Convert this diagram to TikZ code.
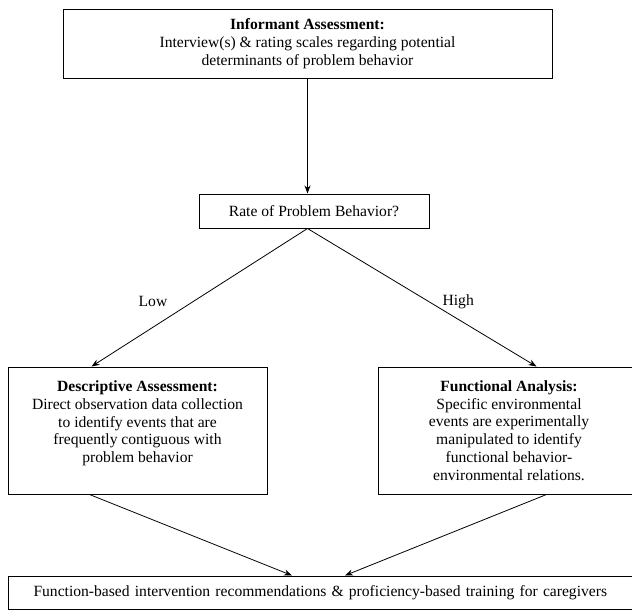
\documentclass[tikz,border=0pt]{standalone}
\usepackage{fontspec}
\setmainfont{Liberation Serif}
\usetikzlibrary{arrows.meta,calc}

\begin{document}
\begin{tikzpicture}[x=1pt, y=-1pt,
      box/.style={draw, line width=1pt, align=center, inner sep=0pt, font=\fontsize{15.6}{17.8}\selectfont},
      link/.style={line width=0.8pt, -{Stealth[length=8pt, width=6pt]}},
      tag/.style={font=\fontsize{15.6}{17.8}\selectfont}]
      \useasboundingbox (0,0) rectangle (632,611);
      \node[box, minimum width=489, minimum height=69] (inform) at (307.5,43.5)
            {\textbf{Informant Assessment:}\\Interview(s) \& rating scales regarding potential\\determinants of problem behavior};
      \node[box, minimum width=230, minimum height=34] (rate) at (314,211) {Rate of Problem Behavior?};
      \node[box, minimum width=259, minimum height=127] (desc) at (137.5,430.5)
            {\textbf{Descriptive Assessment:}\\Direct observation data collection\\to identify events that are\\frequently contiguous with\\problem behavior\\\mbox{}};
      \node[box, minimum width=262, minimum height=127] (func) at (509,430.5)
            {\textbf{Functional Analysis:}\\Specific environmental\\events are experimentally\\manipulated to identify\\functional behavior-\\environmental relations.};
      \node[box, anchor=west, align=left, text width=615, inner xsep=25, minimum height=33] (advice) at (8,592.5)
            {Function-based intervention recommendations \& proficiency-based training for caregivers};
      \coordinate (apex) at (rate.south -| inform.south);
      \draw[link] (inform.south) -- (inform.south |- rate.north);
      \draw[link] (apex) -- node[tag, pos=0.53, left=22pt] {Low} ($(desc.north west)+(84,0)$);
      \draw[link] (apex) -- node[tag, pos=0.53, right=10pt] {High} ($(func.north west)+(159,0)$);
      \draw[link] ($(desc.south west)+(82,0)$) -- ($(advice.north west)+(284,0)$);
      \draw[link] ($(func.south west)+(169,0)$) -- ($(advice.north west)+(337,0)$);
\end{tikzpicture}
\end{document}
